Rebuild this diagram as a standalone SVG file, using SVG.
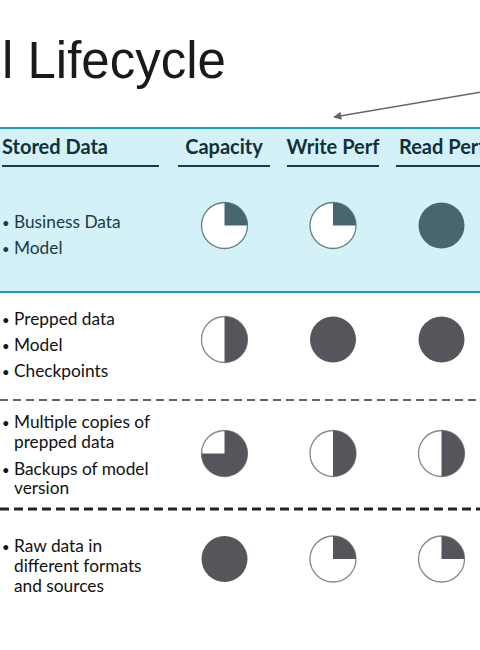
<svg xmlns="http://www.w3.org/2000/svg" xmlns:xlink="http://www.w3.org/1999/xlink" width="480" height="650" viewBox="0 0 480 650">
<style>
.title{font-family:"Liberation Sans",Arial,sans-serif;font-size:51px;fill:#1a1a1a}
.hdr{font-family:Lato,"Open Sans",sans-serif;font-weight:bold;font-size:20px;fill:#11303c}
.ul{stroke:#1d3a46;stroke-width:2}
.t1{font-family:Lato,"Open Sans",sans-serif;font-size:17.3px;fill:#1b3a47}
.t{font-family:Lato,"Open Sans",sans-serif;font-size:17.3px;fill:#111}
.b{font-size:13px}
.o1{fill:#fff;stroke:#66808a;stroke-width:1.3}
.f1{fill:#476670}
.o{fill:#fff;stroke:#888;stroke-width:1.3}
.f{fill:#55565b}
</style>
<defs>
<marker id="ah" viewBox="0 0 10 10" refX="9" refY="5" markerWidth="10" markerHeight="8" orient="auto-start-reverse" markerUnits="userSpaceOnUse">
<path d="M0,0 L10,5 L0,10 Z" fill="#666"/>
</marker>
<g id="q1"><circle r="23" class="o1"/><path d="M0,0 L0,-23 A23,23 0 0 1 23,0 Z" class="f1"/></g>
<g id="full1"><circle r="23" class="f1"/></g>
<g id="half"><circle r="23" class="o"/><path d="M0,-23 A23,23 0 0 1 0,23 Z" class="f"/></g>
<g id="full"><circle r="23" class="f"/></g>
<g id="tq"><circle r="23" class="o"/><path d="M0,0 L0,-23 A23,23 0 1 1 -23,0 Z" class="f"/></g>
<g id="q"><circle r="23" class="o"/><path d="M0,0 L0,-23 A23,23 0 0 1 23,0 Z" class="f"/></g>
</defs>
<rect width="480" height="650" fill="#fff"/>
<text class="title" x="2" y="78">l Lifecycle</text>
<g id="connectors">
<line x1="482" y1="92" x2="334" y2="117" stroke="#666" stroke-width="1.5" marker-end="url(#ah)"/>
</g>
<g id="band">
<rect x="-2" y="128" width="484" height="164" fill="#d4f1f7" stroke="#1e9cc4" stroke-width="2"/>
</g>
<g id="headers">
<text class="hdr" x="2" y="154">Stored Data</text>
<line class="ul" x1="2" y1="166" x2="159" y2="166"/>
<text class="hdr" x="224" y="154" text-anchor="middle">Capacity</text>
<line class="ul" x1="178" y1="166" x2="270" y2="166"/>
<text class="hdr" x="333" y="154" text-anchor="middle">Write Perf</text>
<line class="ul" x1="287" y1="166" x2="379" y2="166"/>
<text class="hdr" x="399" y="154">Read Perf</text>
<line class="ul" x1="396" y1="166" x2="482" y2="166"/>
</g>
<g id="row1">
<text class="t1" y="228"><tspan class="b" x="2">•</tspan><tspan x="14">Business Data</tspan></text>
<text class="t1" y="254"><tspan class="b" x="2">•</tspan><tspan x="14">Model</tspan></text>
<use xlink:href="#q1" x="224.5" y="225.5"/>
<use xlink:href="#q1" x="333" y="225.5"/>
<use xlink:href="#full1" x="441.5" y="225.5"/>
</g>
<g id="row2">
<text class="t" y="325"><tspan class="b" x="2">•</tspan><tspan x="14">Prepped data</tspan></text>
<text class="t" y="351"><tspan class="b" x="2">•</tspan><tspan x="14">Model</tspan></text>
<text class="t" y="377"><tspan class="b" x="2">•</tspan><tspan x="14">Checkpoints</tspan></text>
<use xlink:href="#half" x="224.5" y="339.5"/>
<use xlink:href="#full" x="333" y="339.5"/>
<use xlink:href="#full" x="441.5" y="339.5"/>
</g>
<line x1="0" y1="400" x2="480" y2="400" stroke="#333" stroke-width="1.5" stroke-dasharray="8,5"/>
<g id="row3">
<text class="t" y="428"><tspan class="b" x="2">•</tspan><tspan x="14">Multiple copies of</tspan></text>
<text class="t" x="14" y="448">prepped data</text>
<text class="t" y="475"><tspan class="b" x="2">•</tspan><tspan x="14">Backups of model</tspan></text>
<text class="t" x="14" y="494">version</text>
<use xlink:href="#tq" x="224.5" y="453.5"/>
<use xlink:href="#half" x="333" y="453.5"/>
<use xlink:href="#half" x="441.5" y="453.5"/>
</g>
<line x1="0" y1="509" x2="480" y2="509" stroke="#222" stroke-width="3" stroke-dasharray="9,5"/>
<g id="row4">
<text class="t" y="552"><tspan class="b" x="2">•</tspan><tspan x="14">Raw data in</tspan></text>
<text class="t" x="14" y="572">different formats</text>
<text class="t" x="14" y="592">and sources</text>
<use xlink:href="#full" x="224.5" y="559"/>
<use xlink:href="#q" x="333" y="559"/>
<use xlink:href="#q" x="441.5" y="559"/>
</g>
</svg>
